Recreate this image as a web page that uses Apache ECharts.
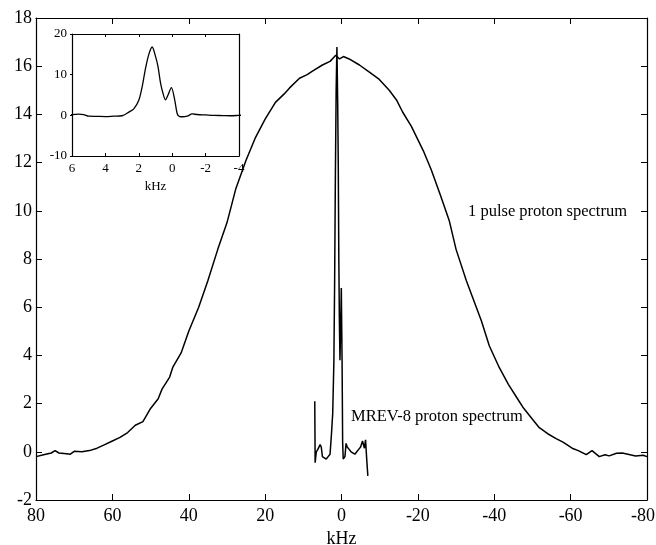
<!DOCTYPE html>
<html>
<head>
<meta charset="utf-8">
<script src="https://cdn.jsdelivr.net/npm/echarts@6/dist/echarts.min.js"></script>
<style>
  html, body { margin: 0; padding: 0; background: #fff; }
  #chart { width: 656px; height: 545px; }
</style>
</head>
<body>
<div id="chart"></div>
<script>
// Espectro de protón de 1 pulso (curva ancha)
const pulseX = [80, 78, 76, 75, 74, 72, 71, 70, 68, 66, 64, 62, 60, 58, 56, 54, 52, 50, 48, 47, 45, 44.2, 42, 40,
  37.4, 35, 32.4, 30, 27.7, 25, 22.5, 20, 17.3, 15, 13.6, 11, 9, 7.6, 5, 3, 1.5, 0.5, -0.5, -2, -4.7, -7.3, -9.9,
  -12.5, -14.4, -16, -18.3, -21.4, -23.5, -26, -28.2, -30, -32.7, -35.3, -36.6, -38.7, -41.3, -43.7, -46.3, -47.5,
  -50, -51.8, -54, -56.2, -58, -60.4, -62, -64.1, -65.6, -67.5, -69, -70.1, -72, -73.5, -75, -77, -79, -80];
const pulseY = [-0.2, -0.12, -0.05, 0.05, -0.05, -0.08, -0.1, 0.02, 0.0, 0.05, 0.15, 0.3, 0.45, 0.6, 0.8, 1.1, 1.25, 1.8, 2.2, 2.6, 3.1, 3.5, 4.1, 5.0,
  6.0, 7.1, 8.4, 9.5, 10.9, 12.1, 13.05, 13.8, 14.5, 14.85, 15.1, 15.5, 15.65, 15.8, 16.05, 16.2, 16.45, 16.3, 16.4, 16.3, 16.05, 15.75, 15.45,
  15.0, 14.6, 14.1, 13.5, 12.5, 11.7, 10.6, 9.6, 8.4, 7.1, 6.0, 5.45, 4.4, 3.5, 2.8, 2.15, 1.85,
  1.35, 1.0, 0.75, 0.55, 0.4, 0.15, 0.05, -0.12, 0.05, -0.2, -0.12, -0.17, -0.06, -0.05, -0.1, -0.17, -0.14, -0.2];

// Espectro MREV-8 (línea estrecha)
const mrevX = [7.0, 6.9, 6.6, 6.2, 5.6, 5.3, 5.0, 4.5, 4.0, 3.5, 3.0, 2.6, 2.3, 2.0, 1.8, 1.6, 1.4, 1.2, 1.0, 0.85,
  0.7, 0.55, 0.4, 0.25, 0.05, -0.15, -0.3, -0.45, -0.6, -0.9, -1.2, -1.5, -2.0, -2.5, -3.0, -3.5, -4.0, -4.5,
  -5.0, -5.5, -6.0, -6.3, -6.6, -6.9];
const mrevY = [2.1, -0.45, 0.0, 0.1, 0.3, 0.2, -0.2, -0.25, -0.3, -0.2, -0.1, 0.8, 1.6, 3.7, 7.0, 11.5, 15.0, 16.8, 14.5, 12.0,
  8.0, 5.4, 3.8, 5.0, 6.8, 3.8, 0.4, -0.3, -0.35, -0.2, 0.35, 0.2, 0.1, 0.0, -0.05, -0.1, 0.0, 0.1,
  0.2, 0.45, 0.15, 0.5, -0.3, -1.0];

const mainXTicks = { min: -80, max: 80, interval: 20 };
const mainYTicks = { min: -2, max: 18, interval: 2 };
const insetXTicks = { min: -4, max: 6, interval: 2 };
const insetYTicks = { min: -10, max: 20, interval: 10 };

const font = 'Liberation Serif, Times New Roman, serif';
const pairs = (xs, ys) => xs.map((x, i) => [x, ys[i]]);

const chart = echarts.init(document.getElementById('chart'));

function valueAxis(ticks, extra) {
  return Object.assign({
    type: 'value',
    min: ticks.min,
    max: ticks.max,
    interval: ticks.interval,
    splitLine: { show: false },
    axisLine: { show: true, onZero: false, lineStyle: { color: '#000', width: 1.2 } },
    axisTick: { show: true, inside: true, length: 6, lineStyle: { color: '#000' } },
    axisLabel: { color: '#000', fontFamily: font, fontSize: 18 }
  }, extra);
}

const option = {
  backgroundColor: '#fff',
  animation: false,
  grid: [
    { left: 36, right: 9, top: 18, bottom: 45, outerBoundsMode: 'none', containLabel: false },
    { left: 72, top: 34, width: 167, height: 122, show: true, backgroundColor: '#fff', borderWidth: 0,
      outerBoundsMode: 'none', containLabel: false }
  ],
  xAxis: [
    valueAxis(mainXTicks, {
      gridIndex: 0, inverse: true, position: 'bottom',
      name: 'kHz', nameLocation: 'middle', nameGap: 28,
      nameTextStyle: { color: '#000', fontFamily: font, fontSize: 18 },
      axisLabel: {
        color: '#000', fontFamily: font, fontSize: 18, margin: 7,
        // el último rótulo (-80) se desplaza un poco a la izquierda para que quepa
        formatter: v => (v === mainXTicks.min ? '{r|' + v + '}' : String(v)),
        rich: { r: { fontFamily: font, fontSize: 18, color: '#000', padding: [0, 8, 0, 0] } }
      }
    }),
    valueAxis(mainXTicks, { gridIndex: 0, inverse: true, position: 'top', axisLabel: { show: false } }),
    valueAxis(insetXTicks, {
      gridIndex: 1, inverse: true, position: 'bottom',
      name: 'kHz', nameLocation: 'middle', nameGap: 24,
      nameTextStyle: { color: '#000', fontFamily: font, fontSize: 13 },
      axisTick: { show: true, inside: true, length: 3, lineStyle: { color: '#000' } },
      axisLabel: { color: '#000', fontFamily: font, fontSize: 13, margin: 6 }
    }),
    valueAxis(insetXTicks, {
      gridIndex: 1, inverse: true, position: 'top',
      axisTick: { show: true, inside: true, length: 3, lineStyle: { color: '#000' } },
      axisLabel: { show: false }
    })
  ],
  yAxis: [
    valueAxis(mainYTicks, { gridIndex: 0, position: 'left', axisLabel: { color: '#000', fontFamily: font, fontSize: 18, margin: 4 } }),
    valueAxis(mainYTicks, { gridIndex: 0, position: 'right', axisLabel: { show: false } }),
    valueAxis(insetYTicks, {
      gridIndex: 1, position: 'left',
      axisTick: { show: true, inside: false, length: 2, lineStyle: { color: '#000' } },
      axisLabel: { color: '#000', fontFamily: font, fontSize: 13, margin: 5 }
    }),
    valueAxis(insetYTicks, {
      gridIndex: 1, position: 'right',
      axisTick: { show: false },
      axisLabel: { show: false }
    })
  ],
  series: [
    {
      name: '1 pulse proton spectrum',
      type: 'line',
      xAxisIndex: 0, yAxisIndex: 0,
      data: pairs(pulseX, pulseY),
      showSymbol: false,
      lineStyle: { color: '#000', width: 1.5 }
    },
    {
      name: 'MREV-8 proton spectrum',
      type: 'line',
      xAxisIndex: 0, yAxisIndex: 0,
      data: pairs(mrevX, mrevY),
      showSymbol: false,
      lineStyle: { color: '#000', width: 1.5 }
    },
    {
      name: 'MREV-8 (detalle)',
      type: 'line',
      xAxisIndex: 2, yAxisIndex: 2,
      data: pairs(mrevX, mrevY),
      showSymbol: false,
      smooth: 0.3,
      clip: true,
      lineStyle: { color: '#000', width: 1.3 }
    }
  ],
  graphic: [
    {
      type: 'text', left: 468, top: 203,
      style: { text: '1 pulse proton spectrum', fill: '#000', font: '16.5px ' + font }
    },
    {
      type: 'text', left: 351, top: 408,
      style: { text: 'MREV-8 proton spectrum', fill: '#000', font: '16.5px ' + font }
    }
  ]
};

chart.setOption(option);
</script>
</body>
</html>
